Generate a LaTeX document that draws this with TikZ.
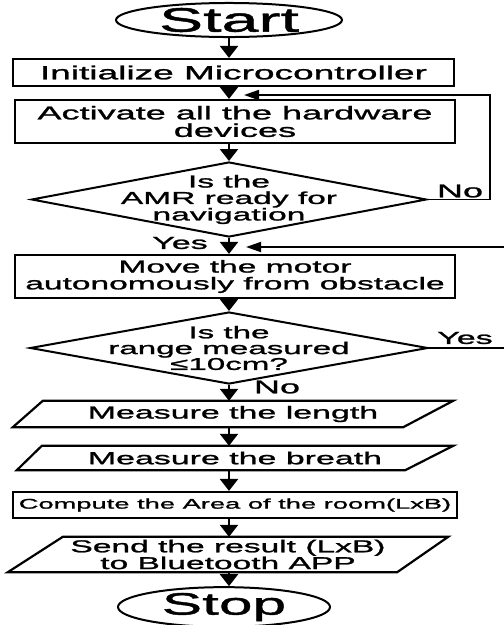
\documentclass[tikz,border=0pt]{standalone}
\usepackage{fontspec}
\setmainfont[FakeStretch=1.95,FakeBold=1.4]{Liberation Sans}
\usetikzlibrary{shapes.geometric,arrows.meta}
\newcommand{\fsz}[2]{\fontsize{#1}{#2}\selectfont}
\tikzset{
  procbox/.style={draw, rectangle, line width=2.2pt, inner sep=0pt, align=center},
  iobox/.style={rectangle, inner sep=0pt, align=center},
  ioline/.style={line width=2.2pt, line join=miter},
  termbox/.style={draw, ellipse, line width=2pt, inner sep=0pt},
  decbox/.style={draw, diamond, line width=2pt, inner sep=0pt},
  arr/.style={line width=2.4pt, -{Triangle[length=12pt,width=18pt]}},
  looparr/.style={line width=1.8pt, -{Triangle[length=15pt,width=10pt]}},
  lbl/.style={inner sep=0pt}
}
\begin{document}
\begin{tikzpicture}[x=1pt,y=-1pt]
\useasboundingbox (0,0) rectangle (504,625);
\clip (0,0) rectangle (504,625);
\fill[white] (0,0) rectangle (504,625);

\coordinate (col) at (229,0);

\node[termbox, minimum width=226pt, minimum height=34pt, font=\fsz{34}{34}] (start) at (229,20) {Start};
\node[procbox, minimum width=441pt, minimum height=27pt, font=\fsz{19}{19}] (init) at (233.5,72.5) {Initialize Microcontroller};
\node[procbox, minimum width=440pt, minimum height=43pt, font=\fsz{18.5}{17.5}] (act) at (235,121.5) {Activate all the hardware\\devices};
\node[decbox, minimum width=395pt, minimum height=75pt,
  label={[align=center, inner sep=0pt, font=\fsz{17.2}{16.5}]center:Is the\\AMR ready for\\navigation}] (d1) at (229,199.5) {};
\node[procbox, minimum width=440pt, minimum height=43pt, font=\fsz{17.2}{16.8}] (move) at (235,276.5) {Move the motor\\autonomously from obstacle};
\node[decbox, minimum width=398pt, minimum height=72pt,
  label={[align=center, inner sep=0pt, font=\fsz{17}{15.8}]center:Is the\\range measured\\≤10cm?}] (d2) at (229,348) {};
\node[iobox, minimum width=440pt, minimum height=26pt, font=\fsz{17.4}{17}] (len) at (233,414) {Measure the length};
\node[iobox, minimum width=436pt, minimum height=24pt, font=\fsz{17.4}{17}] (br) at (235,458) {Measure the breath};
\node[procbox, minimum width=444pt, minimum height=26pt, font=\fsz{14}{14}] (comp) at (235,505) {Compute the Area of the room(LxB)};
\node[iobox, minimum width=440pt, minimum height=35pt, font=\fsz{17.2}{16.8}] (send) at (228,554.5) {Send the result (LxB)\\to Bluetooth APP};
\node[termbox, minimum width=212pt, minimum height=30pt, font=\fsz{31}{31}] (stop) at (224,607) {Stop};

% parallelogram outlines
\draw[ioline] ([xshift=30pt]len.north west) -- (len.north east) -- ([xshift=-50pt]len.south east) -- (len.south west) -- cycle;
\draw[ioline] ([xshift=25pt]br.north west) -- (br.north east) -- ([xshift=-48pt]br.south east) -- (br.south west) -- cycle;
\draw[ioline] ([xshift=55pt]send.north west) -- (send.north east) -- ([xshift=-51pt]send.south east) -- (send.south west) -- cycle;

% main flow
\draw[arr] (start.south) -- (start.south |- init.north);
\draw[arr] (init.south -| col) -- (act.north -| col);
\draw[arr] (act.south -| d1.north) -- (d1.north);
\draw[arr] (d1.south) -- (d1.south |- move.north);
\draw[arr] (move.south -| d2.north) -- (d2.north);
\draw[arr] (d2.south) -- (d2.south |- len.north);
\draw[arr] (len.south -| col) -- (br.north -| col);
\draw[arr] (br.south -| col) -- (comp.north -| col);
\draw[arr] (comp.south -| col) -- (send.north -| col);
\draw[arr] (send.south -| col) -- (stop.north -| col);

% loops
\coordinate (r1) at (490,95);
\coordinate (t1) at (244,95);
\draw[looparr] (d1.east) -| (r1) -- (t1);
\coordinate (r2) at (520,247);
\coordinate (t2) at (246,247);
\draw[looparr] (d2.east) -| (r2) -- (t2);

% labels
\node[lbl, font=\fsz{18.5}{18.5}] (no1) at (460,191) {No};
\node[lbl, font=\fsz{17.4}{17.4}] (yes1) at (180,243) {Yes};
\node[lbl, font=\fsz{17.4}{17.4}] (yes2) at (465,338) {Yes};
\node[lbl, font=\fsz{18.5}{18.5}] (no2) at (277,387) {No};
\end{tikzpicture}
\end{document}
